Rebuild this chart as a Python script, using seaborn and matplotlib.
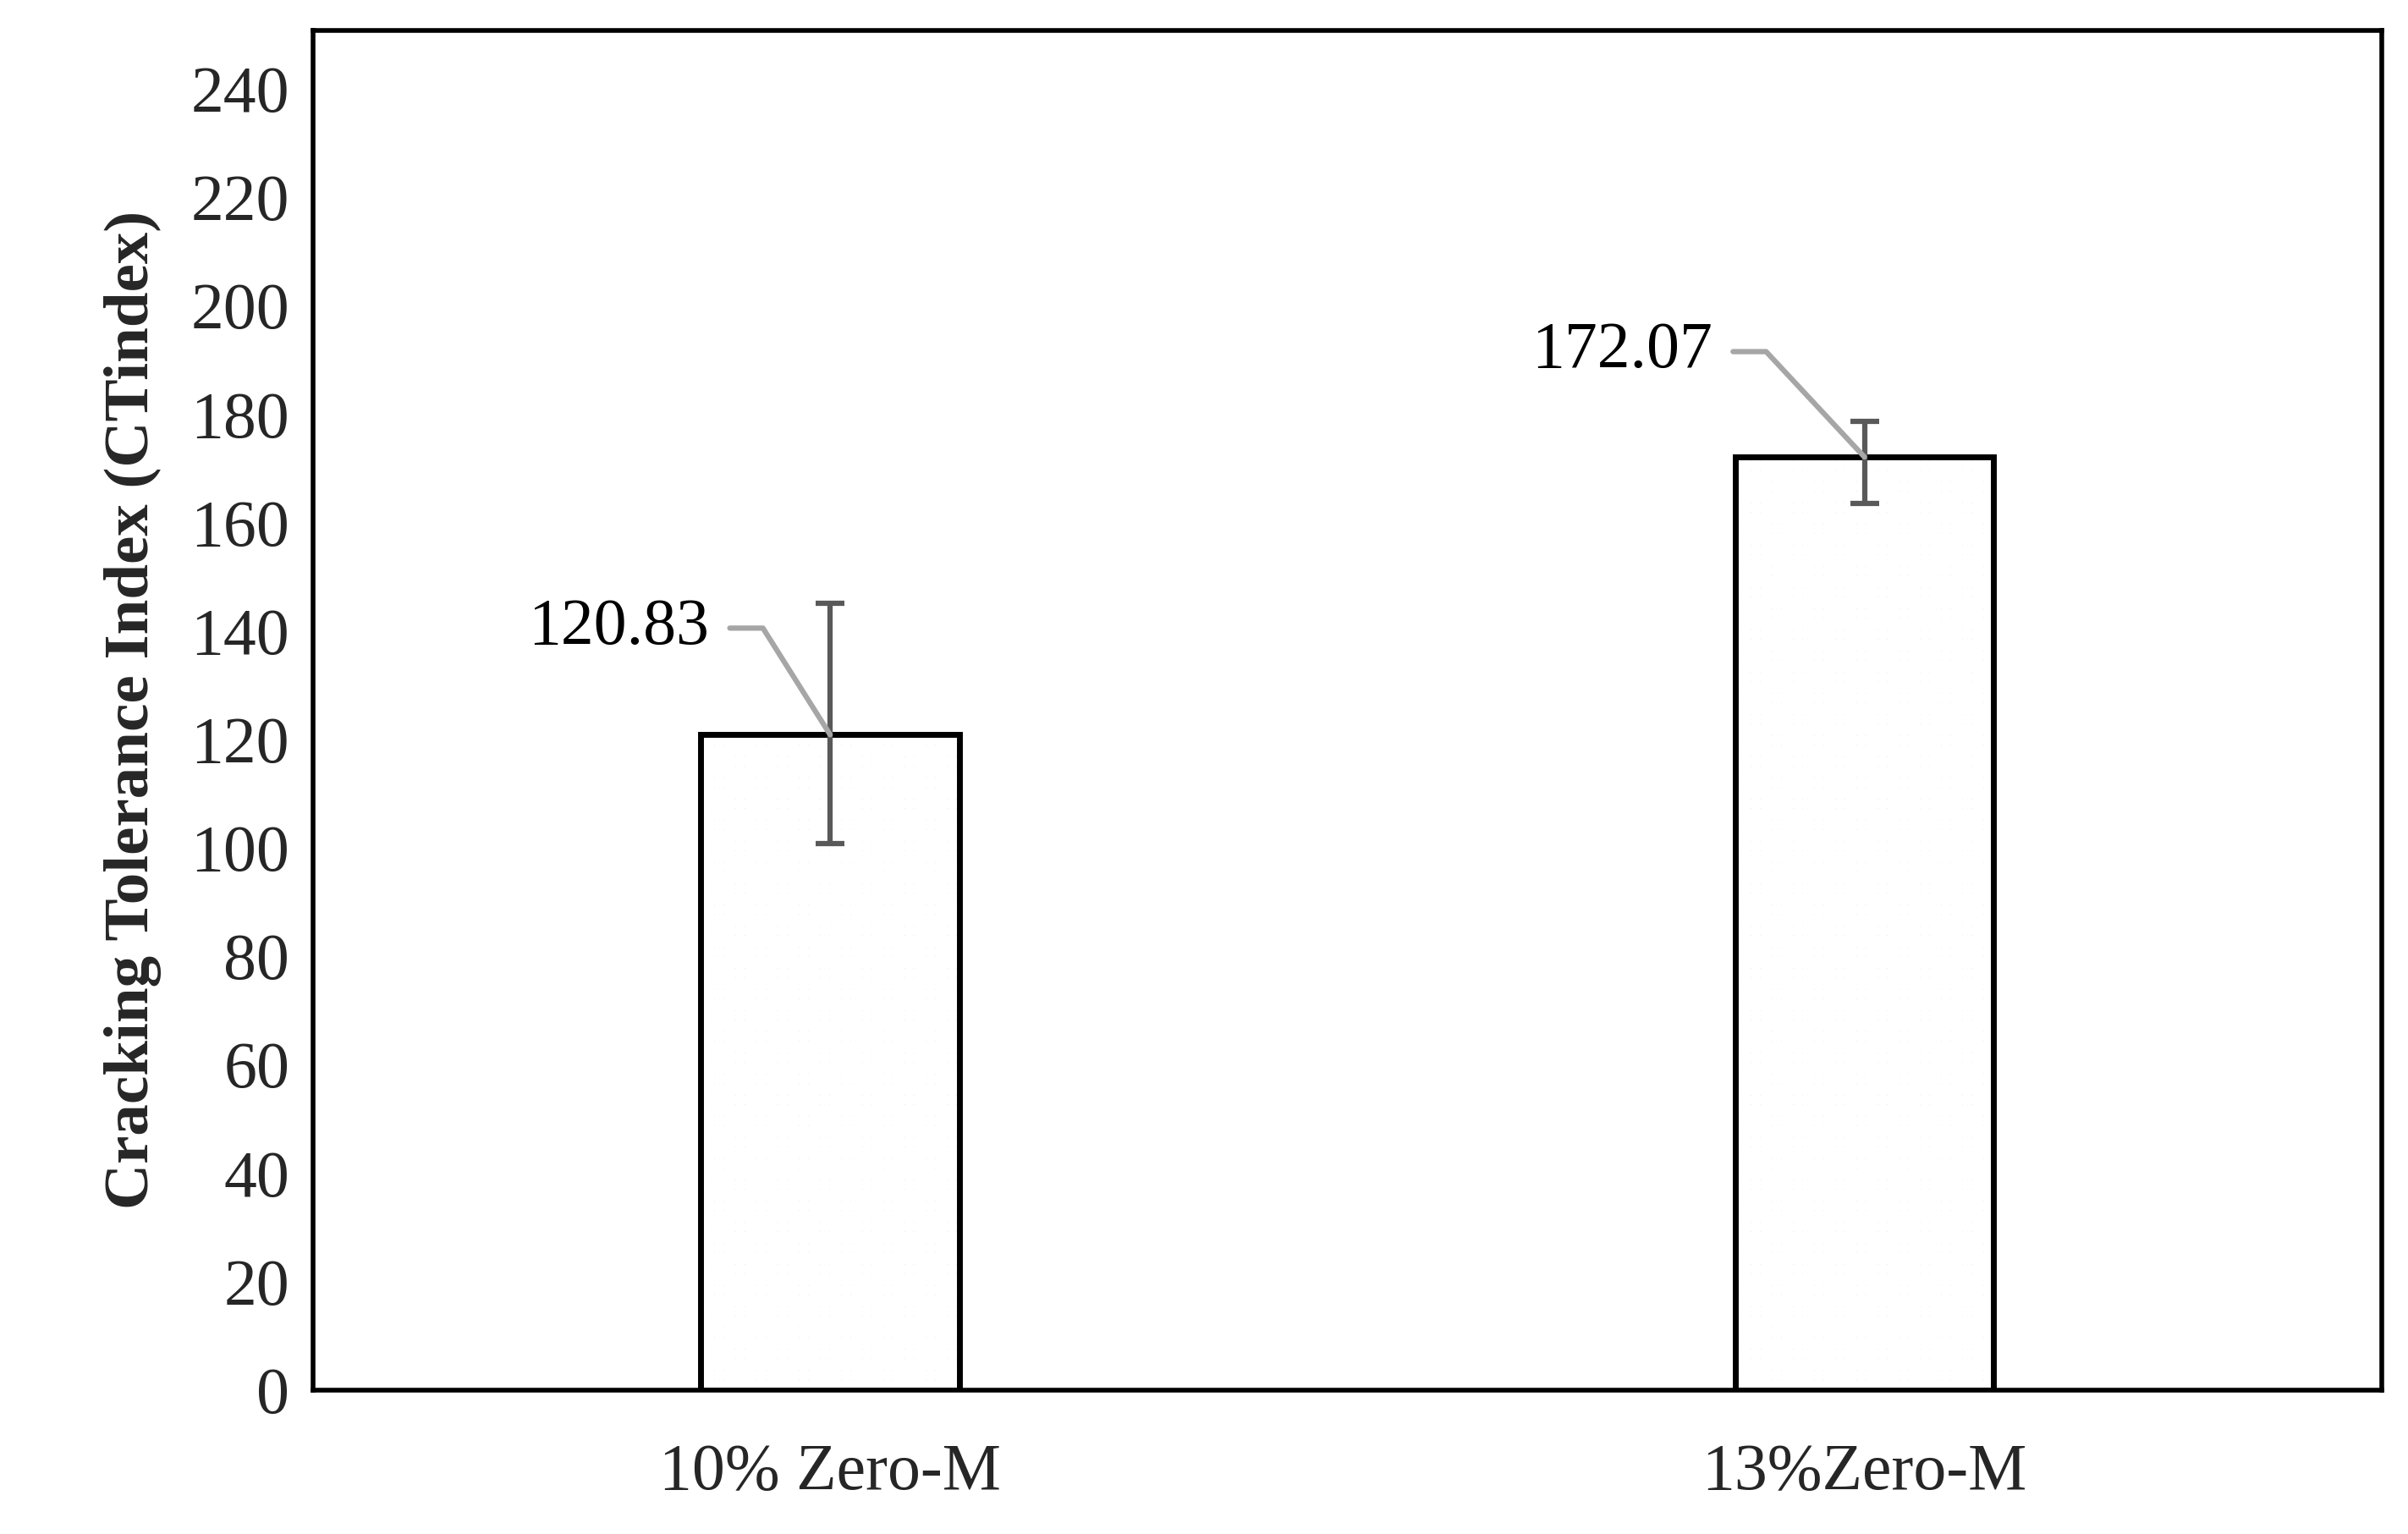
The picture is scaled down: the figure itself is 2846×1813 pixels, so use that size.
import matplotlib
matplotlib.use("Agg")
import matplotlib.pyplot as plt
import seaborn as sns
import pandas as pd

categories = ["10% Zero-M", "13%Zero-M"]
values = [120.83, 172.07]
err_low = [20.0, 8.5]
err_high = [24.3, 6.5]
yticks = list(range(0, 241, 20))

sns.set_theme(style="white")
plt.rcParams['font.family'] = ['Liberation Serif', 'DejaVu Serif']
plt.rcParams['hatch.linewidth'] = 2.5

df = pd.DataFrame({"cat": categories, "val": values})
fig = plt.figure(figsize=(28.46, 18.13), dpi=100)
ax = fig.add_axes([0.130, 0.094, 0.859, 0.886])

sns.barplot(data=df, x="cat", y="val", ax=ax, width=0.25, color="black",
            errorbar=None, saturation=1)
bars = list(ax.patches)
for p in bars:
    p.set_facecolor("black")
    p.set_edgecolor("white")
    p.set_hatch("xxxxxx")
    p.set_linewidth(0)
    r = plt.Rectangle((p.get_x(), p.get_y()), p.get_width(), p.get_height(),
                      fill=False, edgecolor="black", linewidth=5, zorder=3)
    ax.add_patch(r)

ax.errorbar(range(len(values)), values, yerr=[err_low, err_high], fmt="none",
            ecolor="#595959", elinewidth=4.5, capsize=12, capthick=4.5, zorder=4)

label_pos = [(-0.097, 140.5), (0.873, 191.5)]
for i, (v, (lx, ly)) in enumerate(zip(values, label_pos)):
    ax.text(lx - 0.02, ly, f"{v:.2f}", ha="right", va="center", fontsize=56, color="black")
    ax.plot([lx, lx + 0.032, i], [ly, ly, v], color="#a6a6a6", lw=4.5, zorder=5)

ax.set_xlim(-0.5, 1.5)
ax.set_ylim(0, 250.7)
ax.set_yticks(yticks)
ax.set_xlabel("")
ax.set_ylabel("Cracking Tolerance Index (CTindex)", fontsize=54, fontweight="bold", labelpad=25)
ax.tick_params(axis="both", labelsize=56, direction="out", length=0, pad=20)
ax.tick_params(axis="x", pad=45)
for s in ax.spines.values():
    s.set_visible(True)
    s.set_color("black")
    s.set_linewidth(4)

fig.savefig("out.png", dpi=100, facecolor="white")
